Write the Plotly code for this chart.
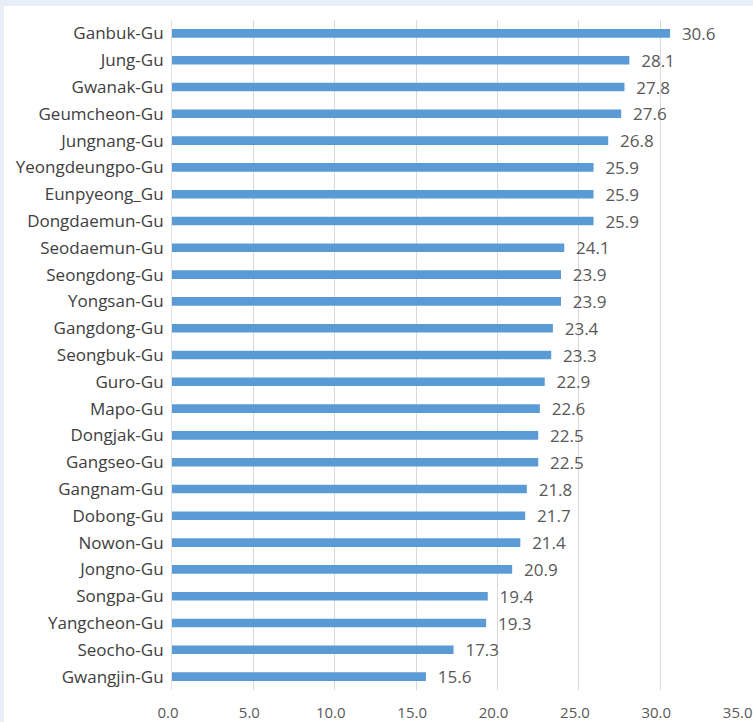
import plotly.graph_objects as go

# districts listed bottom -> top (plotly draws first category at the bottom)
districts = [
    "Gwangjin-Gu", "Seocho-Gu", "Yangcheon-Gu", "Songpa-Gu", "Jongno-Gu",
    "Nowon-Gu", "Dobong-Gu", "Gangnam-Gu", "Gangseo-Gu", "Dongjak-Gu",
    "Mapo-Gu", "Guro-Gu", "Seongbuk-Gu", "Gangdong-Gu", "Yongsan-Gu",
    "Seongdong-Gu", "Seodaemun-Gu", "Dongdaemun-Gu", "Eunpyeong_Gu",
    "Yeongdeungpo-Gu", "Jungnang-Gu", "Geumcheon-Gu", "Gwanak-Gu",
    "Jung-Gu", "Ganbuk-Gu",
]
values = [
    15.6, 17.3, 19.3, 19.4, 20.9,
    21.4, 21.7, 21.8, 22.5, 22.5,
    22.6, 22.9, 23.3, 23.4, 23.9,
    23.9, 24.1, 25.9, 25.9,
    25.9, 26.8, 27.6, 27.8,
    28.1, 30.6,
]
x_ticks = [0, 5, 10, 15, 20, 25, 30, 35]

FONT = "Open Sans, Noto Sans, sans-serif"

fig = go.Figure(go.Bar(
    x=values, y=districts, orientation="h",
    marker=dict(color="#5b9bd5", line=dict(width=0)),
    text=[f"  {v:.1f}" for v in values], textposition="outside",
    constraintext="none",
    textfont=dict(family=FONT, size=17, color="#595959"),
    cliponaxis=False, hoverinfo="x+y",
))

# light blue frame around a white chart area
fig.add_shape(type="rect", xref="paper", yref="paper",
              x0=-0.2947, x1=1.03, y0=-0.06, y1=1.0209,
              fillcolor="white", line=dict(width=0), layer="below")

# labels sit a few px left of their gridline, like the original
fig.update_xaxes(range=[0, 35.02], tickvals=x_ticks,
                 ticktext=[f"{t:.1f}" for t in x_ticks],
                 showgrid=True, gridcolor="#d9d9d9", gridwidth=1,
                 zeroline=False, showline=False, ticks="",
                 ticklabelstandoff=12, ticklabelshift=-4, automargin=False,
                 ticklabeloverflow="allow",
                 tickfont=dict(family=FONT, size=15, color="#595959"))
fig.update_yaxes(showgrid=False, ticks="", showline=True, linecolor="#e3e3e3",
                 linewidth=1, ticklabelstandoff=4, automargin=False,
                 tickfont=dict(family=FONT, size=17, color="#404040"))

fig.update_layout(
    width=753, height=722,
    margin=dict(l=172, r=11, t=20, b=32),
    bargap=0.68,
    paper_bgcolor="#e8eef7", plot_bgcolor="rgba(0,0,0,0)",
    showlegend=False,
)

# drop the browser's default 8px body margin so the figure fills the window
fig.write_html("out.html", config={"displayModeBar": False},
               post_script="document.body.style.margin='0';")
